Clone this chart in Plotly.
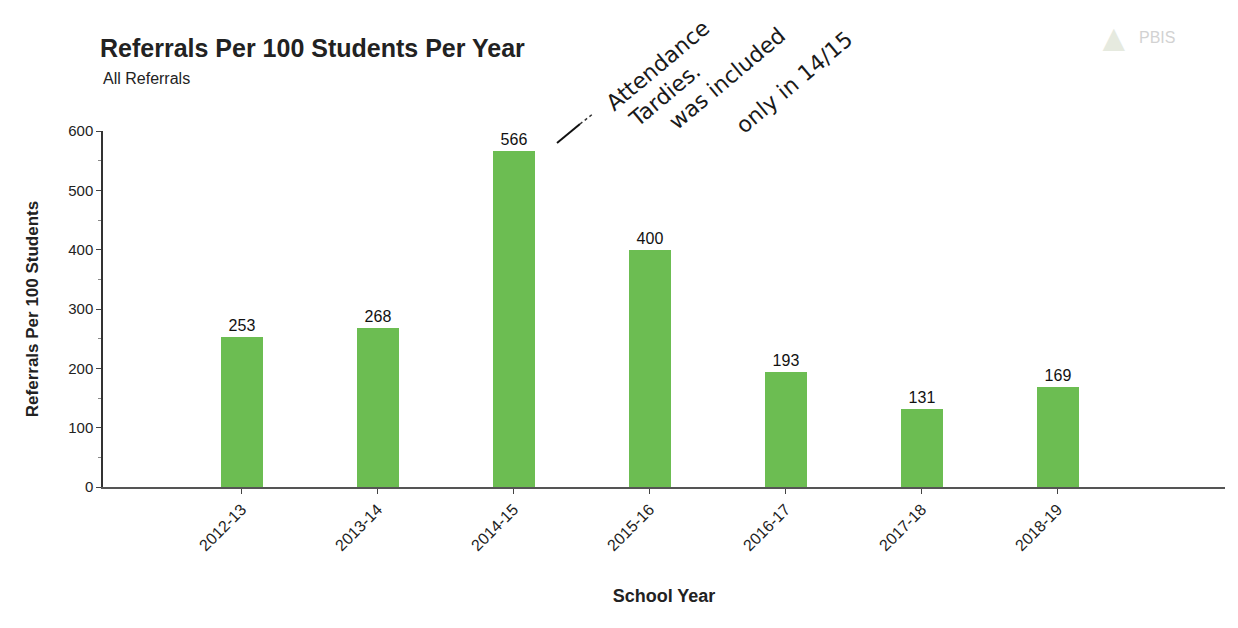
import plotly.graph_objects as go

years = ["2012-13", "2013-14", "2014-15", "2015-16", "2016-17", "2017-18", "2018-19"]
referrals = [253, 268, 566, 400, 193, 131, 169]
y_ticks = [0, 100, 200, 300, 400, 500, 600]
note_lines = ["Attendance", "Tardies.", "was included", "only in 14/15"]

# the page body has an 8px margin, so the figure is sized to fit inside it
OFF = 8
W, H = 1222, 612
ML, MR, MT, MB = 95, 5, 123, 133
PW, PH = W - ML - MR, H - MT - MB


def px(x, y):
    """screen pixel -> paper coordinates"""
    return (x - OFF - ML) / PW, (H - MB - (y - OFF)) / PH


FONT = "Liberation Sans, Arial, sans-serif"

fig = go.Figure(
    go.Bar(
        x=list(range(len(years))),
        y=referrals,
        width=0.31,
        marker=dict(color="#6cbd52", line=dict(width=0)),
        text=[str(v) for v in referrals],
        textposition="outside",
        textfont=dict(size=16, color="#111", family=FONT),
        cliponaxis=False,
    )
)

fig.update_layout(
    width=W,
    height=H,
    margin=dict(l=ML, r=MR, t=MT, b=MB),
    plot_bgcolor="white",
    paper_bgcolor="white",
    showlegend=False,
    font=dict(family=FONT, color="#222"),
    title=dict(
        text="<b>Referrals Per 100 Students Per Year</b>",
        x=(100 - OFF) / W,
        xanchor="left",
        y=1 - (48 - OFF) / H,
        yanchor="middle",
        font=dict(size=25, color="#222", family=FONT),
    ),
    bargap=0,
)

fig.update_xaxes(
    range=[-1.02, 7.23],
    tickmode="array",
    tickvals=list(range(len(years))),
    ticktext=years,
    tickangle=-45,
    tickfont=dict(size=16, color="#222"),
    ticks="outside",
    ticklen=5,
    tickcolor="#444",
    showline=True,
    linecolor="#555",
    linewidth=1.5,
    showgrid=False,
    zeroline=False,
    title=dict(text="<b>School Year</b>", font=dict(size=18, color="#222"), standoff=36),
)

fig.update_yaxes(
    range=[0, 600],
    tickmode="array",
    tickvals=y_ticks,
    ticktext=[str(t) for t in y_ticks],
    tickfont=dict(size=15, color="#222"),
    ticks="outside",
    ticklen=5,
    tickcolor="#444",
    minor=dict(dtick=50, ticks="outside", ticklen=3, tickcolor="#888"),
    showline=True,
    linecolor="#333",
    linewidth=1.5,
    showgrid=False,
    zeroline=False,
    title=dict(text="<b>Referrals Per 100 Students</b>", font=dict(size=17, color="#222"), standoff=25),
)

# subtitle
sx, sy = px(101, 78)
fig.add_annotation(text="All Referrals", xref="paper", yref="paper", x=sx, y=sy,
                   xanchor="left", yanchor="middle", showarrow=False,
                   font=dict(size=16, color="#222"))

# PBIS logo (faint)
lx, ly = px(1137, 38)
fig.add_annotation(text="PBIS", xref="paper", yref="paper", x=lx, y=ly,
                   xanchor="left", yanchor="middle", showarrow=False,
                   font=dict(size=16, color="#d2d2d2"))
tx, ty = px(1114, 38)
fig.add_annotation(text="▲", xref="paper", yref="paper", x=tx, y=ty,
                   xanchor="center", yanchor="middle", showarrow=False,
                   font=dict(size=38, color="#e6eadf"))

# handwritten note
centers = [(658, 66), (664, 95), (727, 78), (794, 82)]
for line, (cx, cy) in zip(note_lines, centers):
    ax_, ay_ = px(cx, cy)
    fig.add_annotation(text=line, xref="paper", yref="paper", x=ax_, y=ay_,
                       xanchor="center", yanchor="middle", showarrow=False,
                       textangle=-40,
                       font=dict(size=22, color="#1a1a1a", family="DejaVu Sans"))

x0, y0 = px(557, 143)
x1, y1 = px(580, 124)
x2, y2 = px(594, 113)
fig.add_shape(type="line", xref="paper", yref="paper", x0=x0, y0=y0, x1=x1, y1=y1,
              line=dict(color="#111", width=2))
fig.add_shape(type="line", xref="paper", yref="paper", x0=x1, y0=y1, x1=x2, y1=y2,
              line=dict(color="#333", width=1.5, dash="dot"))

fig.write_html("out.html")
